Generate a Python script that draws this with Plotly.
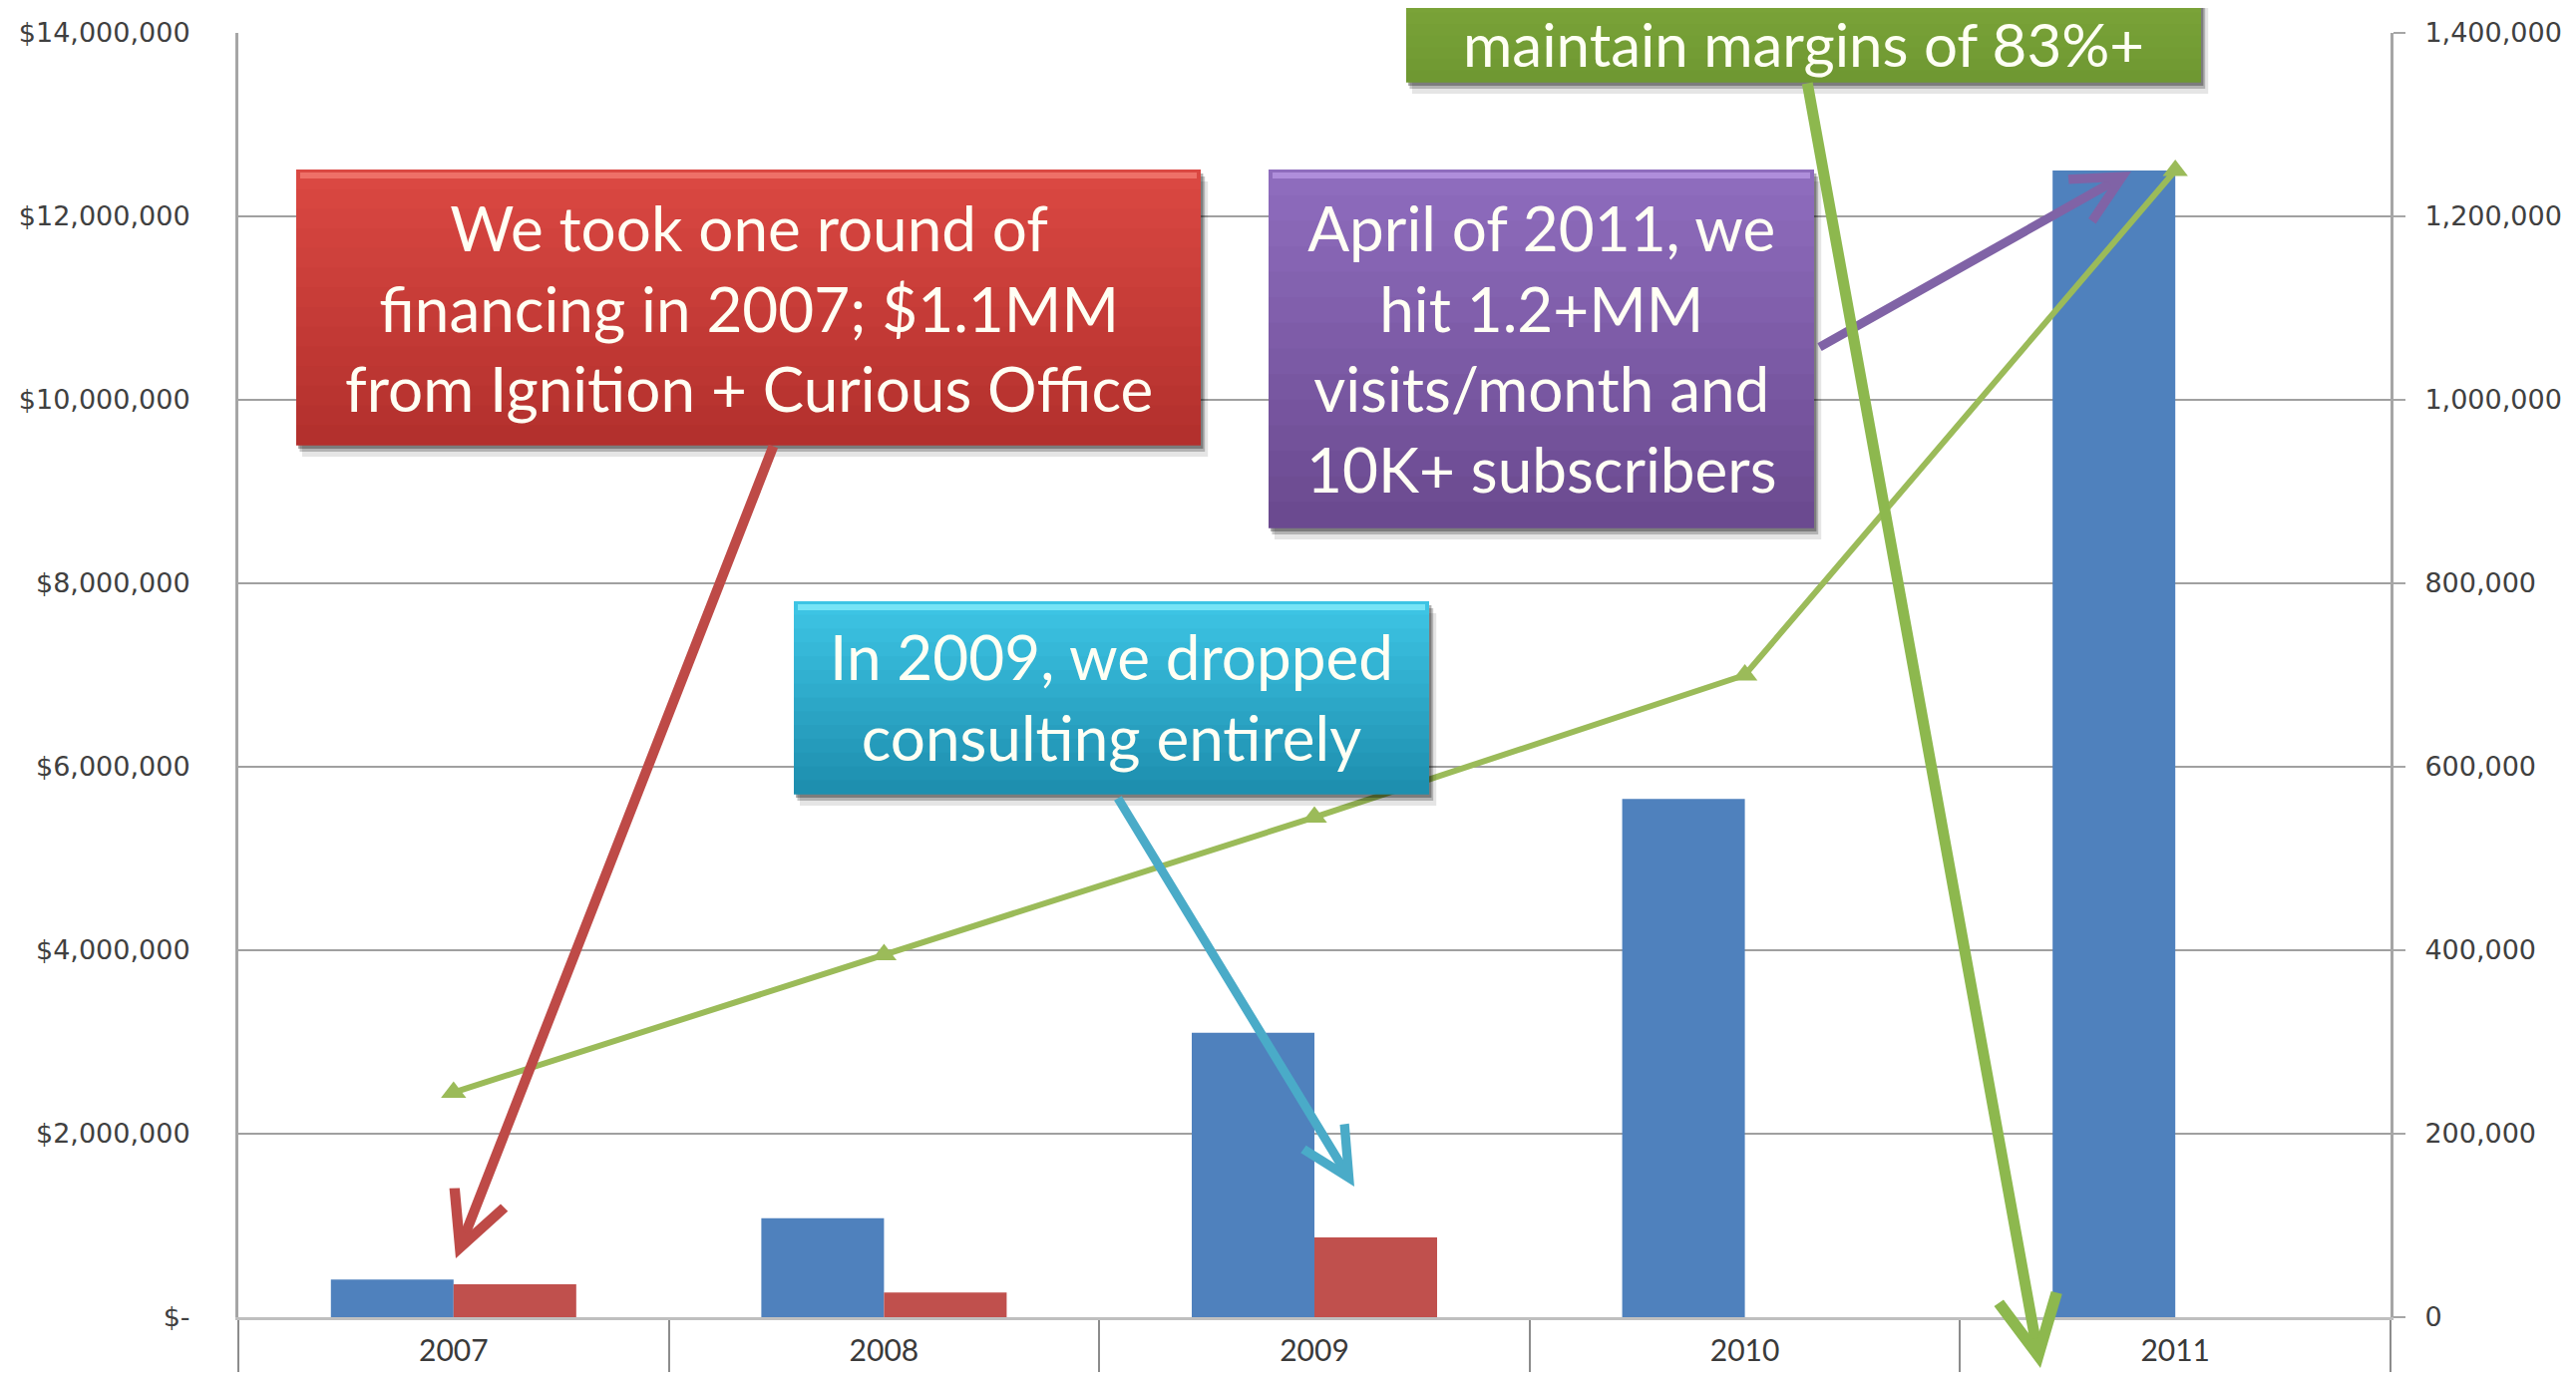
import plotly.graph_objects as go

# ---------------- data ----------------
years = ["2007", "2008", "2009", "2010", "2011"]
revenue = [410000, 1080000, 3100000, 5650000, 12500000]          # blue bars (left axis)
consulting = [360000, 270000, 870000, None, None]                 # red bars (left axis)
visits = [245000, 395000, 545000, 700000, 1250000]                # green line (right axis)

left_tick_vals = [0, 2000000, 4000000, 6000000, 8000000, 10000000, 12000000, 14000000]
left_tick_text = ["$-" if v == 0 else "${:,.0f}".format(v) for v in left_tick_vals]
right_tick_vals = [0, 200000, 400000, 600000, 800000, 1000000, 1200000, 1400000]
right_tick_text = ["{:,.0f}".format(v) for v in right_tick_vals]

# ---------------- geometry helpers (page pixel -> paper) ----------------
OFF = 8                          # default body margin of the html page
PW, PH = 2583, 1384              # page size
W, H = PW - 2 * OFF, PH - 2 * OFF  # figure size (fits without scrollbars)
PL, PR, PT, PB = 239, 2397, 33, 1321   # plot area on the page
L, R, T, B = PL - OFF, PR - OFF, PT - OFF, PB - OFF


def px(x):
    return (x - PL) / (PR - PL)


def py(y):
    return (PB - y) / (PB - PT)


fig = go.Figure()

fig.add_trace(go.Bar(x=years, y=revenue, name="Revenue", marker_color="#4F81BD",
                     marker_line_width=0, offsetgroup="a", yaxis="y"))
fig.add_trace(go.Bar(x=years, y=consulting, name="Consulting", marker_color="#C0504D",
                     marker_line_width=0, offsetgroup="b", yaxis="y"))
fig.add_trace(go.Scatter(x=years, y=visits, name="Visits/month", yaxis="y2",
                         mode="lines+markers",
                         line=dict(color="#9BBB59", width=6),
                         marker=dict(symbol="triangle-up", size=22, color="#9BBB59")))

# ---------------- callout boxes ----------------
def hexrgb(h):
    h = h.lstrip("#")
    return tuple(int(h[i:i + 2], 16) for i in (0, 2, 4))


def mix(c1, c2, t):
    a, b = hexrgb(c1), hexrgb(c2)
    return "rgb({},{},{})".format(*[round(a[i] + (b[i] - a[i]) * t) for i in range(3)])


shapes = []
annotations = []

boxes = [
    # x0, y0, x1, y1, top colour, bottom colour, highlight, text centre y, font size, text
    (297, 170, 1204, 446, "#DA4842", "#B3302D", "#F27A72", 308, 62,
     "We took one round of<br>financing in 2007; $1.1MM<br>from Ignition + Curious Office"),
    (1272, 170, 1819, 529, "#8E6CBD", "#6B4A90", "#B897E2", 349, 62,
     "April of 2011, we<br>hit 1.2+MM<br>visits/month and<br>10K+ subscribers"),
    (796, 603, 1433, 796, "#3DC4E4", "#1E8FAF", "#86ECFA", 699, 62,
     "In 2009, we dropped<br>consulting entirely"),
    (1410, -80, 2207, 82, "#86B040", "#6F9832", "#A4CC60", 44, 60,
     "maintain margins of 83%+"),
]

for x0, y0, x1, y1, ctop, cbot, chi, ty, fs, txt in boxes:
    # drop shadows
    for off, alpha in ((12, 0.10), (7, 0.22), (4, 0.30)):
        shapes.append(dict(type="rect", xref="paper", yref="paper", layer="above",
                           x0=px(x0 + off * 0.5), x1=px(x1 + off * 0.6),
                           y0=py(y0 + off), y1=py(y1 + off),
                           fillcolor="rgba(0,0,0,{})".format(alpha), line_width=0))
    # vertical gradient bands
    n = 14
    for i in range(n):
        ya = y0 + (y1 - y0) * i / n
        yb = y0 + (y1 - y0) * (i + 1) / n + 0.8
        shapes.append(dict(type="rect", xref="paper", yref="paper", layer="above",
                           x0=px(x0), x1=px(x1), y0=py(ya), y1=py(yb),
                           fillcolor=mix(ctop, cbot, i / (n - 1)), line_width=0))
    # bevel highlight on top edge
    shapes.append(dict(type="rect", xref="paper", yref="paper", layer="above",
                       x0=px(x0 + 4), x1=px(x1 - 4), y0=py(y0 + 3), y1=py(y0 + 9),
                       fillcolor=chi, line_width=0, opacity=0.8))
    annotations.append(dict(xref="paper", yref="paper", x=px((x0 + x1) / 2), y=py(ty),
                            text=txt, showarrow=False, align="center",
                            xanchor="center", yanchor="middle",
                            font=dict(family="Lato, Open Sans, sans-serif", size=fs,
                                      color="#FFFFF4")))

# ---------------- arrows (tail -> tip, page pixel positions) ----------------
arrows = [
    ((776, 446), (457, 1262), "#BE4A47", 10),
    ((1823, 349), (2137, 172), "#8063A6", 9),
    ((1120, 799), (1358, 1190), "#4AABC8", 9),
    ((1812, 82), (2046, 1372), "#8DB84E", 11),
]
for (tx, ty), (hx, hy), col, wd in arrows:
    annotations.append(dict(xref="paper", yref="paper", x=px(hx), y=py(hy),
                            axref="pixel", ayref="pixel", ax=tx - hx, ay=ty - hy,
                            text="", showarrow=True, arrowhead=5, arrowsize=1.05,
                            arrowwidth=wd, arrowcolor=col, standoff=0, startstandoff=0))

fig.update_layout(
    width=W, height=H,
    margin=dict(l=L, r=W - R, t=T, b=H - B, autoexpand=False),
    paper_bgcolor="white", plot_bgcolor="white",
    barmode="group", bargap=0.43, bargroupgap=0,
    showlegend=False,
    shapes=shapes, annotations=annotations,
    xaxis=dict(type="category", tickson="boundaries", ticks="outside", ticklen=H - B,
               tickcolor="#8C8C8C", tickwidth=1.5, automargin=False,
               showline=True, linecolor="#BFBFBF", linewidth=3,
               showgrid=False, ticklabelstandoff=5,
               tickfont=dict(family="Lato, sans-serif", size=30, color="#3A3A3A")),
    yaxis=dict(range=[0, 14000000], tickvals=left_tick_vals, ticktext=left_tick_text,
               automargin=False,
               showgrid=True, gridcolor="#A0A0A0", gridwidth=1.8,
               showline=True, linecolor="#A6A6A6", linewidth=3,
               zeroline=False, ticks="", ticklabelstandoff=40,
               tickfont=dict(family="DejaVu Sans, Verdana, sans-serif", size=27,
                             color="#404040")),
    yaxis2=dict(range=[0, 1400000], overlaying="y", side="right",
                tickvals=right_tick_vals, ticktext=right_tick_text,
                automargin=False,
                showgrid=False, zeroline=False,
                showline=True, linecolor="#A6A6A6", linewidth=3,
                ticks="outside", ticklen=12, tickcolor="#A6A6A6", tickwidth=2,
                ticklabelstandoff=14,
                tickfont=dict(family="DejaVu Sans, Verdana, sans-serif", size=27,
                              color="#404040")),
)

fig.write_html("out.html")
